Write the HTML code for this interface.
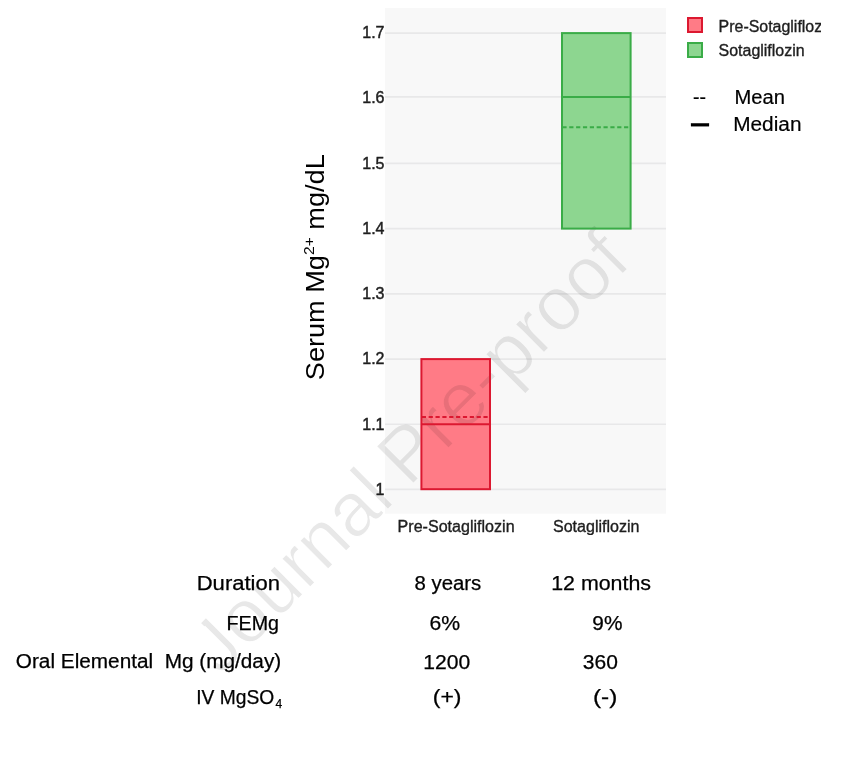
<!DOCTYPE html>
<html>
<head>
<meta charset="utf-8">
<style>
html,body{margin:0;padding:0;background:#fff;}
body{width:866px;height:771px;overflow:hidden;position:relative;}
svg{position:absolute;left:0;top:0;display:block;}
text{font-family:"Liberation Sans",Arial,sans-serif;}
</style>
</head>
<body>
<svg width="866" height="771" viewBox="0 0 866 771">
  <!-- plot background -->
  <rect x="385" y="8" width="281" height="505.7" fill="#f8f8f8"/>
  <!-- gridlines -->
  <g stroke="#e8e8e9" stroke-width="1.6">
    <line x1="385" x2="666" y1="33.1" y2="33.1"/>
    <line x1="385" x2="666" y1="96.9" y2="96.9"/>
    <line x1="385" x2="666" y1="163.4" y2="163.4"/>
    <line x1="385" x2="666" y1="228.6" y2="228.6"/>
    <line x1="385" x2="666" y1="293.9" y2="293.9"/>
    <line x1="385" x2="666" y1="359.1" y2="359.1"/>
    <line x1="385" x2="666" y1="424.2" y2="424.2"/>
    <line x1="385" x2="666" y1="489.4" y2="489.4"/>
  </g>
  <!-- green box -->
  <rect x="562" y="33.1" width="68.6" height="195.5" fill="#8dd690"/>
  <line x1="562" x2="630.6" y1="96.9" y2="96.9" stroke="#3aac47" stroke-width="2"/>
  <line x1="562.4" x2="630" y1="127.2" y2="127.2" stroke="#3aac47" stroke-width="2" stroke-dasharray="4.2 2.65"/>
  <!-- red box -->
  <rect x="421.4" y="359.1" width="68.6" height="130.1" fill="#ff7b86"/>
  <!-- watermark -->
  <defs>
    <mask id="wm" maskUnits="userSpaceOnUse" x="0" y="0" width="866" height="771">
      <g font-size="76" fill="#fff" stroke="#000" stroke-width="1.1">
        <text transform="translate(219.9,677.3) rotate(-45)">Journal</text>
        <text transform="translate(408.9,487.7) rotate(-45)">Pre-proof</text>
      </g>
      <rect transform="translate(219.9,677.3) rotate(-45)" x="12.5" y="-55" width="12.6" height="11" fill="#000"/>
    </mask>
  </defs>
  <g font-size="76" fill="#000" fill-opacity="0.09" mask="url(#wm)">
    <text transform="translate(219.9,677.3) rotate(-45)">Journal</text>
    <text transform="translate(408.9,487.7) rotate(-45)">Pre-proof</text>
  </g>
  <rect x="562" y="33.1" width="68.6" height="195.5" fill="none" stroke="#3aac47" stroke-width="2"/>
  <rect x="421.4" y="359.1" width="68.6" height="130.1" fill="none" stroke="#dc1830" stroke-width="2"/>
  <line x1="421.4" x2="490" y1="424.2" y2="424.2" stroke="#dc1830" stroke-width="2"/>
  <line x1="421.8" x2="489.6" y1="416.9" y2="416.9" stroke="#dc1830" stroke-width="2" stroke-dasharray="4.2 2.65"/>
  <!-- tick labels -->
  <g font-size="16" fill="#1e1e1e" text-anchor="end" stroke="#1e1e1e" stroke-width="0.45">
    <text x="384.5" y="38.2">1.7</text>
    <text x="384.5" y="103.4">1.6</text>
    <text x="384.5" y="168.7">1.5</text>
    <text x="384.5" y="233.9">1.4</text>
    <text x="384.5" y="299.2">1.3</text>
    <text x="384.5" y="364.4">1.2</text>
    <text x="384.5" y="429.7">1.1</text>
    <text x="384.5" y="494.9">1</text>
  </g>
  <!-- x labels -->
  <g font-size="16" fill="#1e1e1e" stroke="#1e1e1e" stroke-width="0.35">
    <text x="397.6" y="531.5" textLength="117" lengthAdjust="spacingAndGlyphs">Pre-Sotagliflozin</text>
    <text x="553" y="531.5" textLength="86.5" lengthAdjust="spacingAndGlyphs">Sotagliflozin</text>
  </g>
  <!-- y title -->
  <text transform="translate(324,380.2) rotate(-90)" font-size="26" fill="#000" textLength="226" lengthAdjust="spacingAndGlyphs">Serum Mg<tspan font-size="15" dy="-10">2+</tspan><tspan dy="10"> mg/dL</tspan></text>
  <!-- legend -->
  <rect x="688" y="18" width="14" height="14" fill="#ff7b86" stroke="#dc1830" stroke-width="2"/>
  <rect x="688" y="43" width="14" height="14" fill="#8dd690" stroke="#3aac47" stroke-width="2"/>
  <defs><clipPath id="lc"><rect x="700" y="0" width="121" height="70"/></clipPath></defs>
  <g font-size="16" fill="#1e1e1e" stroke="#1e1e1e" stroke-width="0.35" clip-path="url(#lc)">
    <text x="718.6" y="31.7" textLength="116" lengthAdjust="spacingAndGlyphs">Pre-Sotagliflozin</text>
    <text x="718.6" y="55.6" textLength="86" lengthAdjust="spacingAndGlyphs">Sotagliflozin</text>
  </g>
  <g font-size="19.5" fill="#000" stroke="#000" stroke-width="0.2">
    <text x="693" y="104.4">--</text>
    <rect x="691" y="123.3" width="18" height="3" fill="#000"/>
    <text x="734.5" y="104.2" textLength="50.5" lengthAdjust="spacingAndGlyphs">Mean</text>
    <text x="733.2" y="131.4" textLength="68.3" lengthAdjust="spacingAndGlyphs">Median</text>
  </g>
  <!-- table -->
  <g font-size="19.5" fill="#000" stroke="#000" stroke-width="0.25">
    <text x="196.71" y="590" textLength="83.33" lengthAdjust="spacingAndGlyphs">Duration</text>
    <text x="226.58" y="629.5" textLength="52.44" lengthAdjust="spacingAndGlyphs">FEMg</text>
    <text x="15.80" y="667.5" textLength="265.42" lengthAdjust="spacingAndGlyphs" xml:space="preserve">Oral Elemental  Mg (mg/day)</text>
    <text x="196.2" y="703.8" textLength="78" lengthAdjust="spacingAndGlyphs">IV MgSO</text>
    <text x="275.6" y="708.4" font-size="12">4</text>
    <text x="414.49" y="589.5" textLength="66.82" lengthAdjust="spacingAndGlyphs">8 years</text>
    <text x="551.16" y="589.5" textLength="99.88" lengthAdjust="spacingAndGlyphs">12 months</text>
    <text x="429.53" y="630.3" textLength="30.63" lengthAdjust="spacingAndGlyphs">6%</text>
    <text x="592.34" y="630.3" textLength="30.10" lengthAdjust="spacingAndGlyphs">9%</text>
    <text x="423.21" y="669" textLength="46.96" lengthAdjust="spacingAndGlyphs">1200</text>
    <text x="582.89" y="669" textLength="35.05" lengthAdjust="spacingAndGlyphs">360</text>
    <text x="432.74" y="703.5" textLength="28.73" lengthAdjust="spacingAndGlyphs">(+)</text>
    <text x="592.98" y="703.5" textLength="24.40" lengthAdjust="spacingAndGlyphs">(-)</text>
  </g>
</svg>
</body>
</html>
